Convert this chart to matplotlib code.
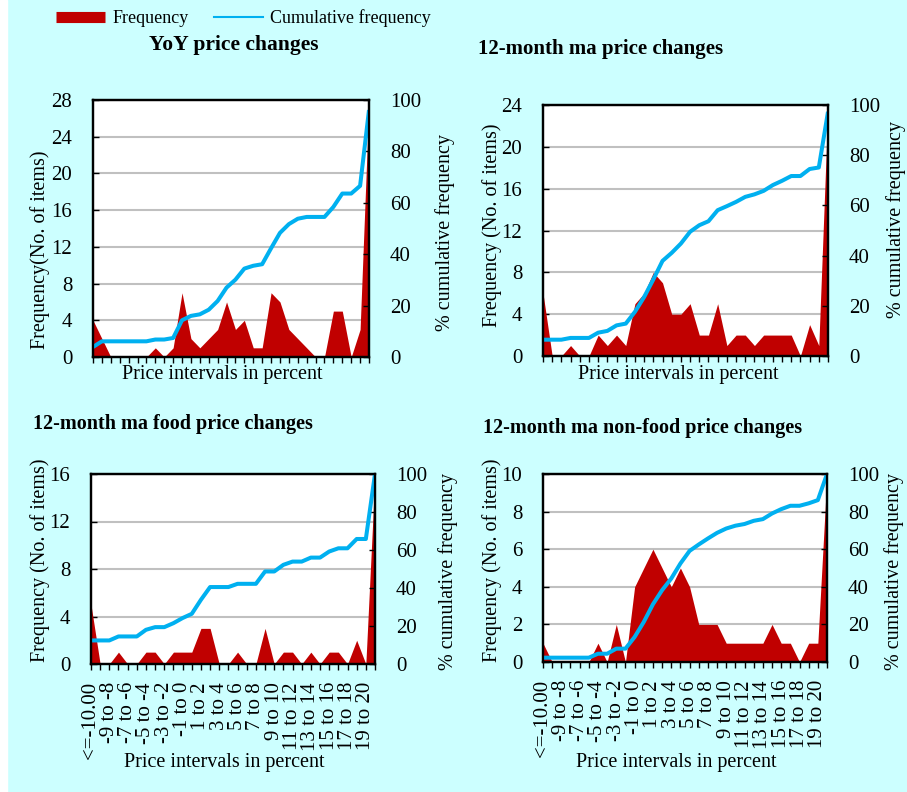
import matplotlib
matplotlib.use("Agg")
import matplotlib.pyplot as plt
from matplotlib.lines import Line2D
from matplotlib.patches import Rectangle

plt.rcParams['font.family'] = ['Liberation Serif', 'DejaVu Serif']

# price interval categories (32 bins, every other one labelled)
categories = ['<=-10.00'] + [f'{k} to {k + 1}' for k in range(-10, 20)] + ['>20']

# YoY price changes
freq_yoy = [4, 2, 0, 0, 0, 0, 0, 1, 0, 1, 7, 2, 1, 2, 3, 6, 3, 4, 1, 1, 7, 6, 3, 2, 1, 0, 0, 5, 5, 0, 3, 28]
cum_yoy = [3.9, 6.1, 6.1, 6.1, 6.1, 6.1, 6.1, 6.8, 6.8, 7.4, 14.3, 16.0, 16.6, 18.4, 21.8, 27.0,
           30.1, 34.4, 35.5, 36.1, 42.3, 48.3, 51.7, 53.8, 54.5, 54.5, 54.5, 58.4, 63.6, 63.6, 66.6, 96.1]

# 12-month moving average price changes
freq_ma = [6, 0, 0, 1, 0, 0, 2, 1, 2, 1, 5, 6, 8, 7, 4, 4, 5, 2, 2, 5, 1, 2, 2, 1, 2, 2, 2, 2, 0, 3, 1, 24]
cum_ma = [6.5, 6.5, 6.5, 7.2, 7.2, 7.2, 9.3, 10.0, 12.2, 12.9, 17.6, 23.5, 30.5, 37.9, 41.1, 44.8,
          49.5, 52.1, 53.7, 58.1, 59.7, 61.4, 63.4, 64.4, 65.8, 68.1, 69.8, 71.7, 71.7, 74.5, 75.1, 97.3]

# 12-month ma food
freq_food = [5, 0, 0, 1, 0, 0, 1, 1, 0, 1, 1, 1, 3, 3, 0, 0, 1, 0, 0, 3, 0, 1, 1, 0, 1, 0, 1, 1, 0, 2, 0, 16]
cum_food = [12.4, 12.4, 12.4, 14.5, 14.5, 14.5, 18.0, 19.4, 19.4, 21.5, 24.2, 26.4, 33.8, 40.5, 40.5, 40.5,
            42.2, 42.2, 42.2, 48.7, 48.7, 52.2, 53.9, 53.9, 56.0, 56.0, 59.2, 60.9, 60.9, 65.8, 65.8, 100.0]

# 12-month ma non-food
freq_nonfood = [1, 0, 0, 0, 0, 0, 1, 0, 2, 0, 4, 5, 6, 5, 4, 5, 4, 2, 2, 2, 1, 1, 1, 1, 1, 2, 1, 1, 0, 1, 1, 10]
cum_nonfood = [2.3, 2.3, 2.3, 2.3, 2.3, 2.3, 4.4, 4.4, 7.1, 7.1, 13.3, 21.3, 30.7, 38.2, 44.4, 52.4,
               59.1, 62.5, 65.7, 68.7, 71.0, 72.5, 73.4, 75.1, 76.0, 79.0, 81.3, 83.1, 83.1, 84.4, 86.1, 100.0]

RED = '#C00000'
BLUE = '#00B0F0'
BG = '#CCFFFF'

W, H = 907, 792
fig = plt.figure(figsize=(W / 100, H / 100), dpi=100, facecolor=BG)
fig.patches.append(Rectangle((0, 0), 7 / W, 1, transform=fig.transFigure, color='white', zorder=-1))


def px(x, y):
    return x / W, 1 - y / H


def panel(box, freq, cum, ymax, ystep, title, title_xy, title_ha, title_size, ylab, ylab_x, ylab_y,
          rlab_x, rlab_y, xlab_xy, show_labels):
    l, t, r, b = box
    ax = fig.add_axes([l / W, 1 - b / H, (r - l) / W, (b - t) / H])
    x = list(range(len(categories)))
    ax.fill_between(x, 0, freq, color=RED, lw=0, zorder=2)
    ax.set_xlim(0, len(categories) - 1)
    ax.set_ylim(0, ymax)
    ax.set_yticks(range(0, ymax + 1, ystep))
    ax.yaxis.grid(True, color='#C0C0C0', lw=1.5)
    ax.set_axisbelow(True)
    ax.set_xticks(x)
    if show_labels:
        ax.set_xticklabels([c if i % 2 == 0 else '' for i, c in enumerate(categories)],
                           rotation=90, fontsize=15)
    else:
        ax.set_xticklabels([])
    ax.tick_params(axis='x', direction='out', length=4, width=1, pad=9)
    ax.tick_params(axis='y', direction='in', length=4, width=1, pad=15, labelsize=15)
    for s in ax.spines.values():
        s.set_linewidth(1.6)

    ax2 = ax.twinx()
    ax2.plot(x, cum, color=BLUE, lw=2.9, solid_capstyle='butt')
    ax2.set_ylim(0, 100)
    ax2.set_yticks(range(0, 101, 20))
    ax2.tick_params(axis='y', direction='in', length=4, width=1, pad=15, labelsize=15)
    for s in ax2.spines.values():
        s.set_linewidth(1.6)

    fig.text(*px(*title_xy), title, ha=title_ha, va='center', fontsize=title_size, fontweight='bold')
    fig.text(*px(ylab_x, ylab_y), ylab, rotation=90, ha='center', va='center', fontsize=14.5)
    fig.text(*px(rlab_x, rlab_y), '% cumulative frequency', rotation=90, ha='center', va='center', fontsize=14.5)
    fig.text(*px(*xlab_xy), 'Price intervals in percent', ha='center', va='center', fontsize=14.5)


panel((93, 100, 369, 357), freq_yoy, cum_yoy, 28, 4, 'YoY price changes', (234, 45), 'center', 15.5,
      'Frequency(No. of items)', 40, 250, 445, 233, (222, 375), False)
panel((543, 105, 828, 356), freq_ma, cum_ma, 24, 4, '12-month ma price changes', (601, 49), 'center', 15,
      'Frequency (No. of items)', 492, 225, 896, 220, (678, 375), False)
panel((91, 474, 375, 664), freq_food, cum_food, 16, 4, '12-month ma food price changes', (33, 424), 'left', 14.5,
      'Frequency (No. of items)', 40, 560, 448, 572, (224, 763), True)
panel((543, 474, 827, 662), freq_nonfood, cum_nonfood, 10, 2, '12-month ma non-food price changes', (483, 428), 'left', 14.5,
      'Frequency (No. of items)', 492, 560, 894, 572, (676, 762), True)

handles = [Line2D([], [], color=RED, lw=8, solid_capstyle='butt'),
           Line2D([], [], color=BLUE, lw=1.5)]
fig.legend(handles, ['Frequency', 'Cumulative frequency'], loc='center left',
           bbox_to_anchor=px(40, 18), ncol=2, frameon=False, fontsize=13,
           handlelength=2.7, handletextpad=0.4, columnspacing=1.4)

fig.savefig('out.png', dpi=100, facecolor=BG)
